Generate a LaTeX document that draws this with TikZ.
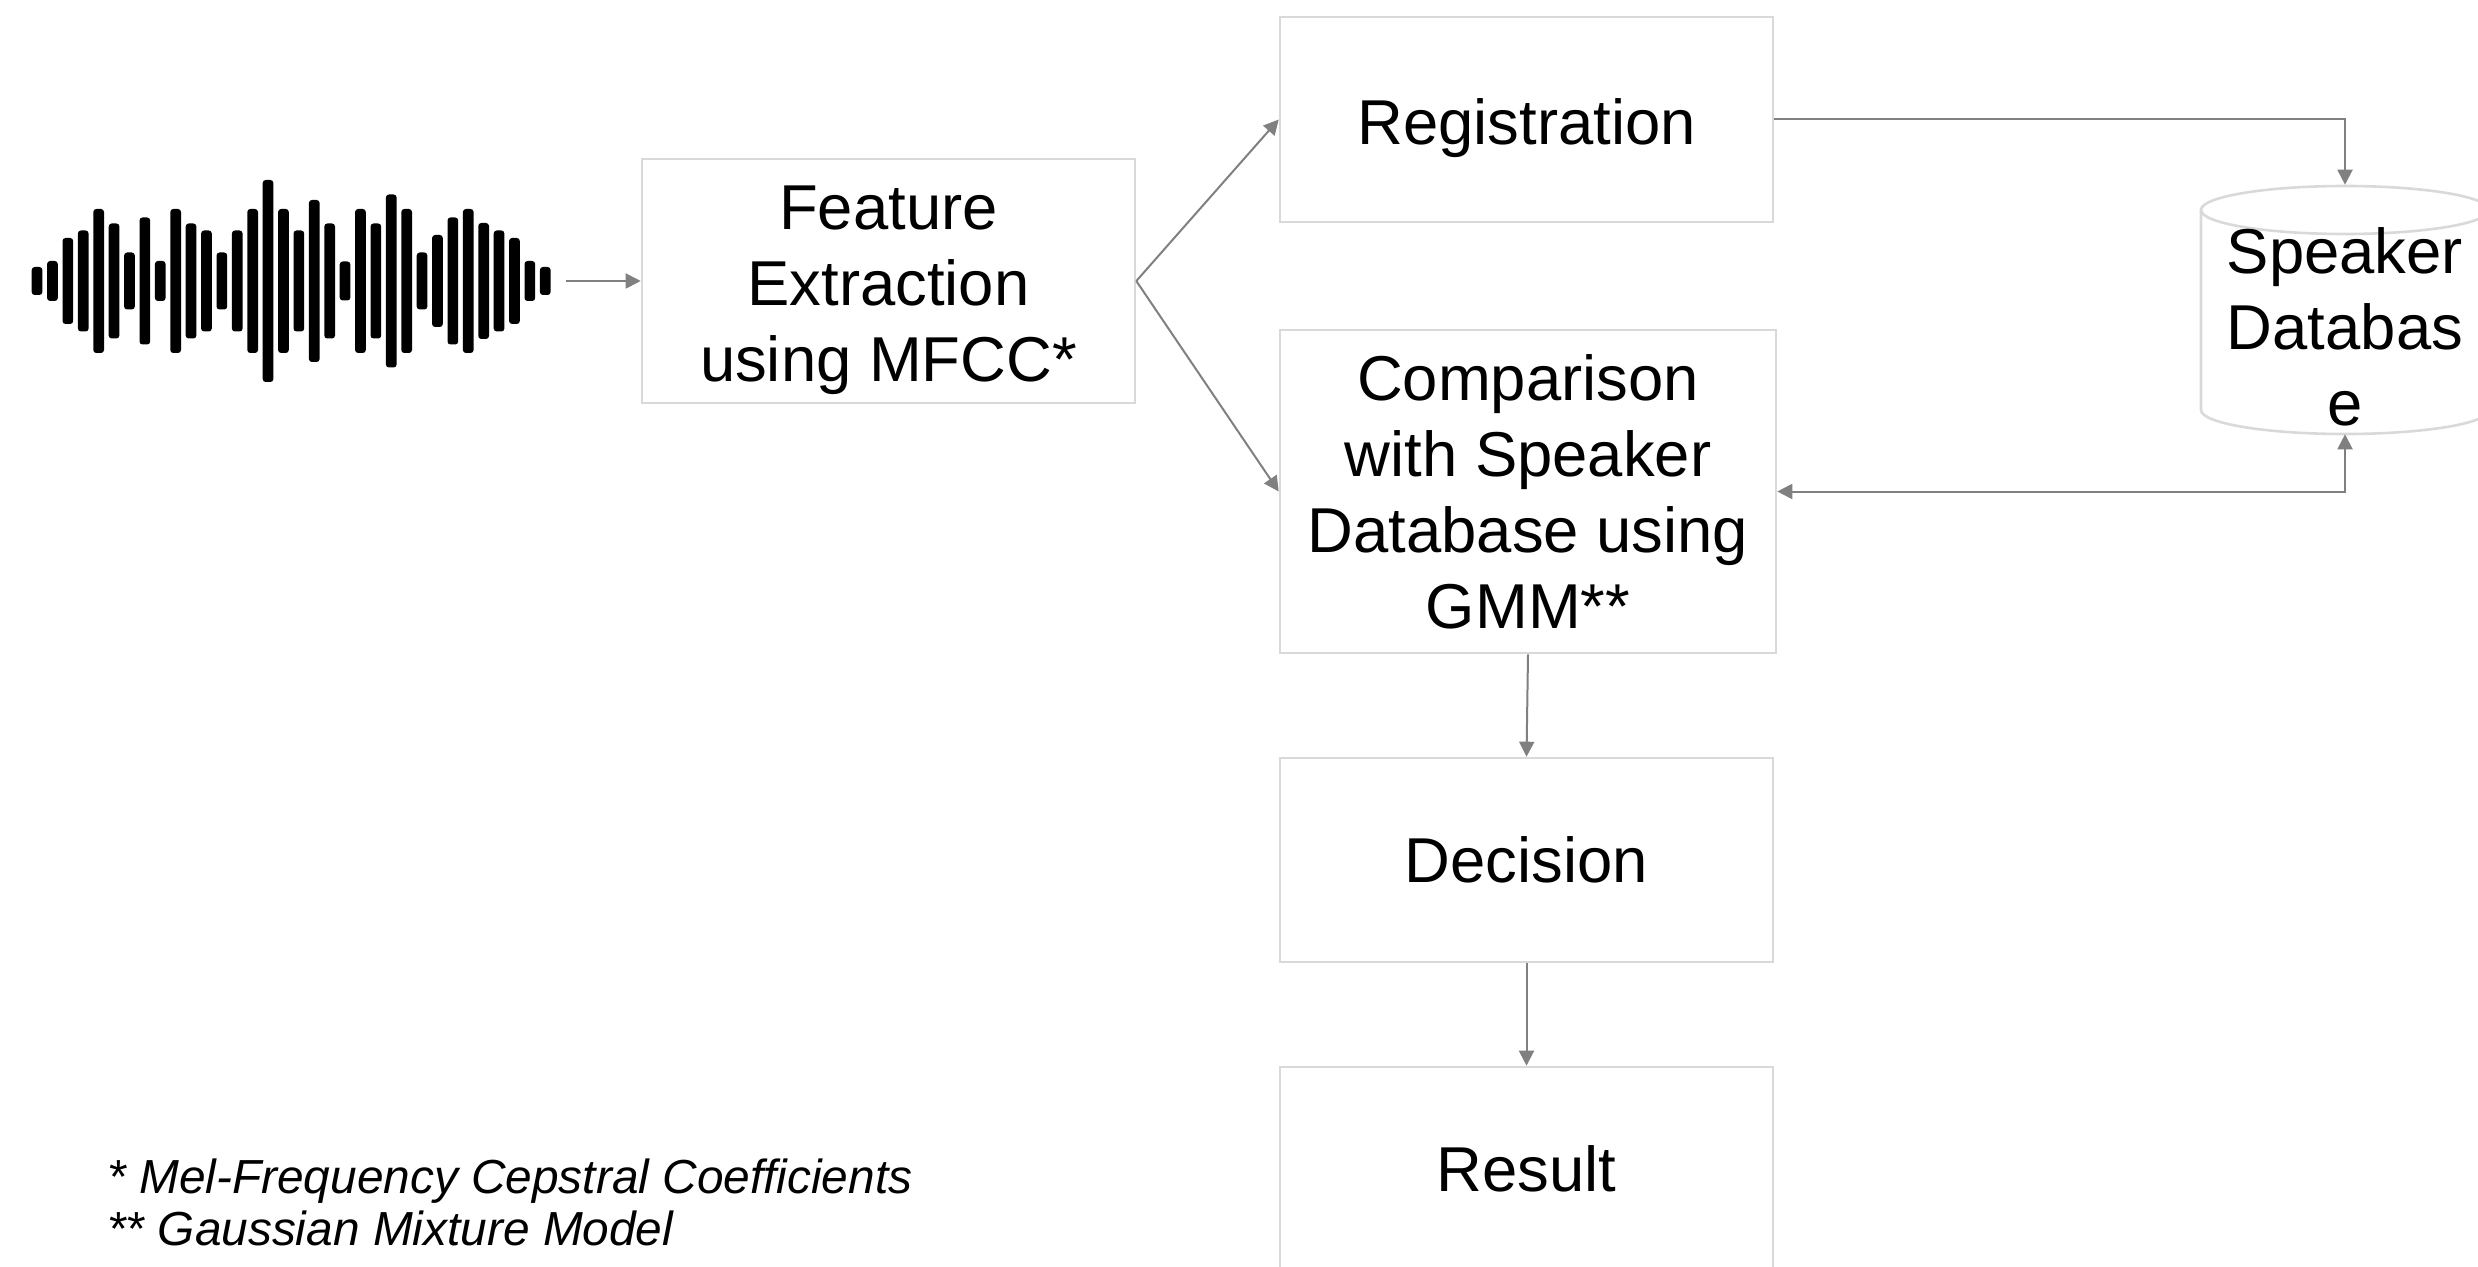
\documentclass[tikz,border=0pt]{standalone}
\usepackage{fontspec}
\setmainfont{Liberation Sans}
\usepackage{tikz}
\usetikzlibrary{arrows.meta,calc}

\definecolor{boxgray}{HTML}{D9D9D9}
\definecolor{arrowgray}{HTML}{808080}

\tikzset{
  stage/.style={draw=boxgray, line width=1.3pt, minimum width=246.5pt, inner sep=0pt,
    align=center, font=\fontsize{31.7}{38}\selectfont},
  flow/.style={draw=arrowgray, line width=1pt, -{Triangle[length=7.5pt,width=7.5pt]}},
  bothflow/.style={flow, {Triangle[length=7.5pt,width=7.5pt]}-{Triangle[length=7.5pt,width=7.5pt]}},
  notes/.style={font=\fontsize{23.9}{26}\selectfont\itshape, align=left, inner sep=0pt}
}
% invisible top strut, pushes a centred text down
\newcommand{\toppad}[1]{\rule{0pt}{#1}}

\begin{document}
\begin{tikzpicture}[x=0.5pt,y=0.5pt]
\useasboundingbox (0,0) rectangle (2478,1266);

% waveform
\foreach \h [count=\i] in {28,40,86,101,144,115,57,127,40,144,115,101,57,101,144,202,144,101,162,115,39,144,115,173,144,57,92,127,144,116,101,86,40,28}
  \fill[black, rounded corners=1.5pt] ({37+15.4*(\i-1)-5.3},{985-\h/2}) rectangle ++(10.7,\h);
\coordinate (wavetip) at (566,985);

% stages
\node[stage, minimum height=122pt] (feat) at (888.5,985) {\toppad{31pt}Feature\\Extraction\\using MFCC*};
\node[stage, minimum height=102.5pt] (reg) at (1526.5,1146.5) {\toppad{32pt}Registration};
\node[stage, minimum width=248pt, minimum height=161.5pt] (cmp) at (1528,774.5) {Comparison\\with Speaker\\Database using\\GMM**};
\node[stage, minimum height=102pt] (dec) at (1526.5,406) {Decision};
\node[stage, minimum height=102pt] (res) at (1526.5,97) {Result};

% speaker database
\draw[boxgray, line width=1.3pt] (2201,1056) -- (2201,856)
  arc[start angle=180, end angle=360, x radius=72pt, y radius=12pt] -- (2489,1056);
\draw[boxgray, line width=1.3pt] (2345,1056) ellipse [x radius=72pt, y radius=12pt];
\node[stage, draw=none, minimum width=144pt, minimum height=123.5pt] (db) at (2345,956.5) {\toppad{40pt}Speaker\\Databas\\e};

% connectors
\draw[flow] (wavetip) -- (feat.west);
\draw[flow] (feat.east) -- (reg.west);
\draw[flow] (feat.east) -- (cmp.west);
\draw[flow] (reg.east) -| (db.north);
\draw[bothflow] (cmp.east) -| (db.south);
\draw[flow] (cmp.south) -- (dec.north);
\draw[flow] (dec.south) -- (res.north);

% footnotes
\node[notes, anchor=base west] (note1) at (107,73) {* Mel-Frequency Cepstral Coefficients};
\node[notes, anchor=base west] (note2) at (107,21) {** Gaussian Mixture Model};
\end{tikzpicture}
\end{document}
